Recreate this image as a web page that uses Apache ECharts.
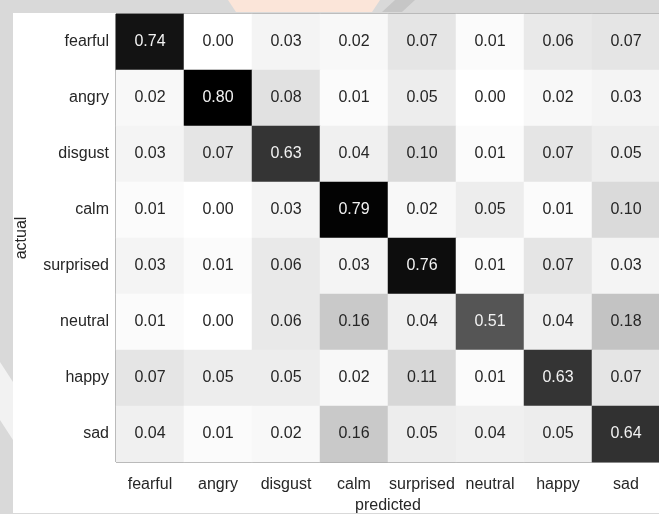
<!DOCTYPE html>
<html>
<head>
<meta charset="utf-8">
<title>Confusion matrix</title>
<script src="https://cdn.jsdelivr.net/npm/echarts@6/dist/echarts.min.js"></script>
<style>
  html, body { margin: 0; padding: 0; background: #d9d9d9; }
  #chart { position: absolute; left: 0; top: 0; width: 659px; height: 514px; }
</style>
</head>
<body>
<div id="chart"></div>
<script>
// Class labels (same order on both axes)
const predictedLabels = ['fearful', 'angry', 'disgust', 'calm', 'surprised', 'neutral', 'happy', 'sad'];
const actualLabels = ['fearful', 'angry', 'disgust', 'calm', 'surprised', 'neutral', 'happy', 'sad'];

// Normalised confusion matrix rows, one per actual class
const rowFearful   = [0.74, 0.00, 0.03, 0.02, 0.07, 0.01, 0.06, 0.07];
const rowAngry     = [0.02, 0.80, 0.08, 0.01, 0.05, 0.00, 0.02, 0.03];
const rowDisgust   = [0.03, 0.07, 0.63, 0.04, 0.10, 0.01, 0.07, 0.05];
const rowCalm      = [0.01, 0.00, 0.03, 0.79, 0.02, 0.05, 0.01, 0.10];
const rowSurprised = [0.03, 0.01, 0.06, 0.03, 0.76, 0.01, 0.07, 0.03];
const rowNeutral   = [0.01, 0.00, 0.06, 0.16, 0.04, 0.51, 0.04, 0.18];
const rowHappy     = [0.07, 0.05, 0.05, 0.02, 0.11, 0.01, 0.63, 0.07];
const rowSad       = [0.04, 0.01, 0.02, 0.16, 0.05, 0.04, 0.05, 0.64];

const matrixRows = [rowFearful, rowAngry, rowDisgust, rowCalm, rowSurprised, rowNeutral, rowHappy, rowSad];

// Flatten into [x, y, value] triples for the heatmap; dark cells get light text
const cells = [];
matrixRows.forEach((row, yi) => {
  row.forEach((v, xi) => cells.push({
    value: [xi, yi, v],
    label: { color: v > 0.4 ? '#f2f2f2' : '#262626' }
  }));
});

const chart = echarts.init(document.getElementById('chart'), null, { renderer: 'canvas' });

const labelFont = 'Liberation Sans, Arial, sans-serif';
const textColor = '#262626';

chart.setOption({
  backgroundColor: 'transparent',
  animation: false,
  graphic: [
    // white figure panel
    { type: 'rect', left: 13, top: 13, shape: { width: 660, height: 500 }, style: { fill: '#ffffff' }, z: -10 },
    // faint marks in the surrounding margin
    { type: 'polygon', shape: { points: [[228, 0], [380, 0], [372, 12], [236, 12]] }, style: { fill: '#fbe5d9' }, z: -9 },
    { type: 'polygon', shape: { points: [[395, 0], [415, 0], [402, 12], [382, 12]] }, style: { fill: '#c6c6c6' }, z: -9 },
    { type: 'polygon', shape: { points: [[0, 362], [13, 382], [13, 440], [0, 420]] }, style: { fill: '#f2f2f2' }, z: -9 }
  ],
  grid: {
    left: 116, top: 14, width: 544, height: 448,
    outerBoundsMode: 'none',
    containLabel: false,
    show: true, borderColor: '#555555', borderWidth: 1, backgroundColor: 'transparent'
  },
  xAxis: {
    type: 'category',
    data: predictedLabels,
    name: 'predicted',
    nameLocation: 'middle',
    nameGap: 35,
    nameTextStyle: { fontSize: 16, color: textColor, fontFamily: labelFont },
    axisLine: { show: false },
    axisTick: { show: false },
    splitLine: { show: false },
    axisLabel: { interval: 0, fontSize: 16, color: textColor, fontFamily: labelFont, margin: 15 }
  },
  yAxis: {
    type: 'category',
    data: actualLabels,
    inverse: true,
    name: 'actual',
    nameLocation: 'middle',
    nameGap: 86,
    nameRotate: 90,
    nameTextStyle: { fontSize: 16, color: textColor, fontFamily: labelFont },
    axisLine: { show: false },
    axisTick: { show: false },
    splitLine: { show: false },
    axisLabel: { interval: 0, fontSize: 16, color: textColor, fontFamily: labelFont, margin: 7 }
  },
  visualMap: {
    show: false,
    type: 'continuous',
    min: 0,
    max: 0.8,
    dimension: 2,
    inRange: {
      color: ['#ffffff', '#dadada', '#bdbdbd', '#a0a0a0', '#808080', '#585858', '#3c3c3c', '#202020', '#000000']
    }
  },
  series: [{
    type: 'heatmap',
    data: cells,
    itemStyle: { borderWidth: 0 },
    label: {
      show: true,
      fontSize: 16,
      fontFamily: labelFont,
      formatter: p => p.value[2].toFixed(2)
    },
    emphasis: { disabled: true }
  }]
});
</script>
</body>
</html>
